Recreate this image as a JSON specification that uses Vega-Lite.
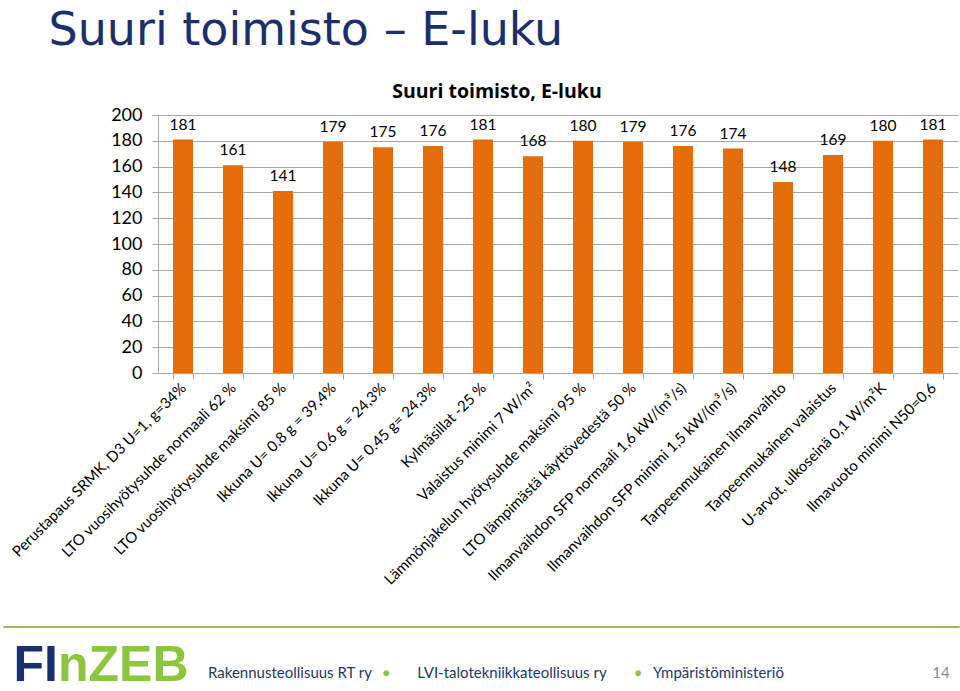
{
  "$schema": "https://vega.github.io/schema/vega-lite/v6.json",
  "padding": {"left": 2, "top": 7, "right": 0, "bottom": 0},
  "background": "white",
  "config": {
    "font": "Lato",
    "view": {"stroke": null}
  },
  "title": {
    "text": "Suuri toimisto – E-luku",
    "anchor": "start",
    "frame": "bounds",
    "fontSize": 46,
    "font": "DejaVu Sans",
    "fontWeight": "normal",
    "color": "#1c2f6b",
    "dx": 46,
    "offset": 27
  },
  "spacing": 37,
  "vconcat": [
    {
      "spacing": 0,
      "hconcat": [
        {
          "width": 1,
          "height": 258,
          "data": {"values": []},
          "mark": {"type": "text"},
          "encoding": {}
        },
        {
          "width": 800,
          "height": 258,
          "title": {
            "text": "Suuri toimisto, E-luku",
            "font": "Open Sans",
            "fontSize": 19.5,
            "fontWeight": "bold",
            "color": "#000000",
            "frame": "group",
            "anchor": "middle",
            "dx": -61,
            "offset": 4
          },
          "data": {
            "values": [
              {"scenario": "Perustapaus SRMK, D3 U=1, g=34%", "E": 181},
              {"scenario": "LTO vuosihyötysuhde normaali 62 %", "E": 161},
              {"scenario": "LTO vuosihyötysuhde maksimi 85 %", "E": 141},
              {"scenario": "Ikkuna U= 0.8 g = 39,4%", "E": 179},
              {"scenario": "Ikkuna U= 0.6 g = 24,3%", "E": 175},
              {"scenario": "Ikkuna U= 0.45 g= 24,3%", "E": 176},
              {"scenario": "Kylmäsillat -25 %", "E": 181},
              {"scenario": "Valaistus minimi 7 W/m²", "E": 168},
              {"scenario": "Lämmönjakelun hyötysuhde maksimi 95 %", "E": 180},
              {"scenario": "LTO lämpimästä käyttövedestä 50 %", "E": 179},
              {"scenario": "Ilmanvaihdon SFP normaali 1,6 kW/(m³/s)", "E": 176},
              {"scenario": "Ilmanvaihdon SFP minimi 1,5 kW/(m³/s)", "E": 174},
              {"scenario": "Tarpeenmukainen ilmanvaihto", "E": 148},
              {"scenario": "Tarpeenmukainen valaistus", "E": 169},
              {"scenario": "U-arvot, ulkoseinä 0,1 W/m²K", "E": 180},
              {"scenario": "Ilmavuoto minimi N50=0,6", "E": 181}
            ]
          },
          "encoding": {
            "x": {
              "field": "scenario",
              "type": "nominal",
              "sort": null,
              "scale": {"paddingInner": 0.6, "paddingOuter": 0.3},
              "axis": {
                "title": null,
                "labelAngle": -45,
                "labelAlign": "right",
                "labelBaseline": "middle",
                "labelFontSize": 15,
                "labelColor": "#000000",
                "labelLimit": 0,
                "labelPadding": 6,
                "tickBand": "extent",
                "tickSize": 6,
                "tickColor": "#a6a6a6",
                "domainColor": "#a6a6a6",
                "grid": false
              }
            }
          },
          "layer": [
            {
              "mark": {"type": "bar", "color": "#e46c0a"},
              "encoding": {
                "y": {
                  "field": "E",
                  "type": "quantitative",
                  "scale": {"domain": [0, 200]},
                  "axis": {
                    "title": null,
                    "values": [0, 20, 40, 60, 80, 100, 120, 140, 160, 180, 200],
                    "tickCount": 11,
                    "labelOverlap": false,
                    "labelFontSize": 18,
                    "labelColor": "#000000",
                    "labelPadding": 10,
                    "grid": true,
                    "gridColor": "#a6a6a6",
                    "tickSize": 6,
                    "tickColor": "#a6a6a6",
                    "domainColor": "#a6a6a6",
                    "minExtent": 154
                  }
                }
              }
            },
            {
              "mark": {"type": "text", "baseline": "bottom", "dy": -7, "fontSize": 15.5, "color": "#000000"},
              "encoding": {
                "y": {"field": "E", "type": "quantitative"},
                "text": {"field": "E", "type": "quantitative"}
              }
            }
          ]
        }
      ]
    },
    {
      "spacing": 13,
      "vconcat": [
        {
          "width": 956,
          "height": 1,
          "data": {"values": []},
          "mark": {"type": "text"},
          "encoding": {},
          "view": {"stroke": "#9bbb59", "strokeWidth": 1}
        },
        {
          "width": 956,
          "height": 10,
          "data": {"values": [{"a": 1}]},
          "layer": [
            {"mark": {"type": "text", "text": "FI", "font": "Liberation Sans", "fontWeight": "bold", "fontSize": 50, "color": "#1b2f6e", "align": "right", "baseline": "middle", "dx": -423, "dy": -7}, "encoding": {}},
            {"mark": {"type": "text", "text": "nZEB", "font": "Liberation Sans", "fontWeight": "bold", "fontSize": 50, "color": "#8cc63f", "align": "left", "baseline": "middle", "dx": -423, "dy": -7}, "encoding": {}},
            {"mark": {"type": "text", "text": "Rakennusteollisuus RT ry", "fontSize": 15, "color": "#1f3864", "align": "left", "baseline": "middle", "dx": -273}, "encoding": {}},
            {"mark": {"type": "text", "text": "●", "fontSize": 12, "color": "#8cc63f", "align": "center", "baseline": "middle", "dx": -95}, "encoding": {}},
            {"mark": {"type": "text", "text": "LVI-talotekniikkateollisuus ry", "fontSize": 15, "color": "#1f3864", "align": "center", "baseline": "middle", "dx": 31}, "encoding": {}},
            {"mark": {"type": "text", "text": "●", "fontSize": 12, "color": "#8cc63f", "align": "center", "baseline": "middle", "dx": 157}, "encoding": {}},
            {"mark": {"type": "text", "text": "Ympäristöministeriö", "fontSize": 15, "color": "#1f3864", "align": "left", "baseline": "middle", "dx": 172}, "encoding": {}},
            {"mark": {"type": "text", "text": "14", "fontSize": 15, "color": "#8c8c8c", "align": "center", "baseline": "middle", "dx": 460}, "encoding": {}}
          ]
        }
      ]
    }
  ]
}
